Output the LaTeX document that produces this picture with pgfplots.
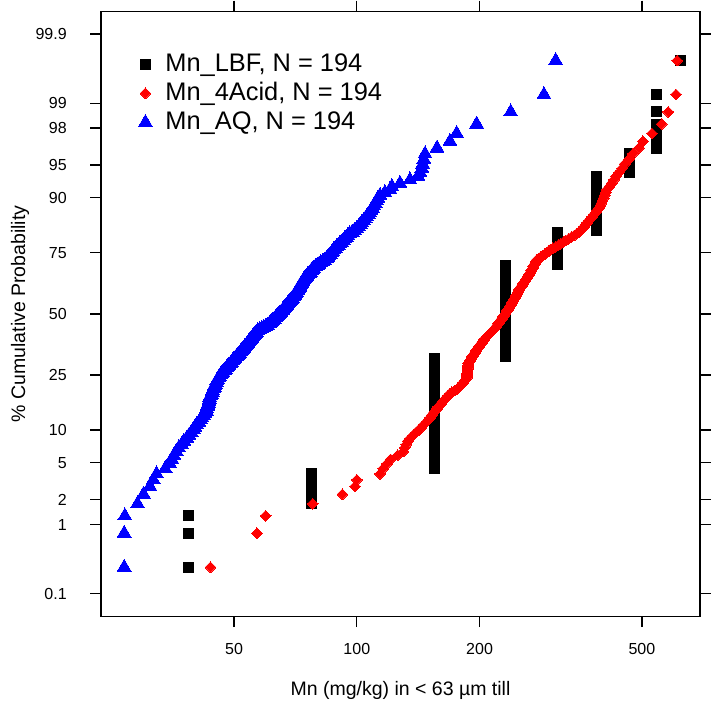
\documentclass[border=0pt]{standalone}
\usepackage{fontspec}
\setmainfont{Liberation Sans}
\usepackage{pgfplots}
\usepackage{pgfplotstable}
\pgfplotsset{compat=1.18}

% rank i and the sorted Mn values (mg/kg) of each method
\pgfplotstableread{
i lbf acid aq
1 38.7 43.8 26.9
2 38.7 56.9 26.9
3 38.7 59.8 27.0
4 77.4 78.0 29.0
5 77.4 92.2 30.0
6 77.4 99.0 31.1
7 77.4 100.0 31.7
8 77.4 114.0 32.3
9 155 116.0 33.9
10 155 118.5 34.8
11 155 121.0 35.2
12 155 126.0 35.6
13 155 130.1 36.1
14 155 131.0 36.6
15 155 132.2 37.2
16 155 133.4 37.7
17 155 135.3 38.3
18 155 137.5 38.8
19 155 139.8 39.3
20 155 142.0 39.7
21 155 144.1 40.1
22 155 146.1 40.5
23 155 148.1 41.0
24 155 149.9 41.4
25 155 151.3 41.7
26 155 152.7 42.1
27 155 154.1 42.4
28 155 155.6 42.8
29 155 157.0 42.9
30 155 158.4 43.0
31 155 159.9 43.1
32 155 161.4 43.3
33 155 162.8 43.4
34 155 164.3 43.5
35 155 165.8 43.6
36 155 167.3 43.8
37 155 168.8 44.0
38 155 171.1 44.2
39 155 173.8 44.3
40 155 176.6 44.5
41 155 178.3 44.7
42 155 179.7 44.8
43 155 181.0 45.0
44 155 182.4 45.2
45 155 183.7 45.4
46 155 185.1 45.6
47 155 186.0 45.8
48 155 186.2 46.0
49 155 186.3 46.3
50 155 186.5 46.6
51 155 186.7 46.9
52 155 186.8 47.3
53 155 187.0 47.6
54 155 187.2 48.0
55 155 187.3 48.3
56 155 187.5 48.6
57 155 187.7 49.0
58 155 188.4 49.3
59 155 189.3 49.6
60 155 190.2 49.9
61 155 191.1 50.3
62 232 192.0 50.6
63 232 192.8 50.9
64 232 193.7 51.3
65 232 194.6 51.6
66 232 195.5 51.9
67 232 196.4 52.2
68 232 197.3 52.6
69 232 198.3 52.9
70 232 199.3 53.2
71 232 200.3 53.5
72 232 201.3 53.8
73 232 202.3 54.1
74 232 203.4 54.4
75 232 204.4 54.7
76 232 205.4 55.0
77 232 206.5 55.3
78 232 207.9 55.5
79 232 209.3 55.8
80 232 210.8 56.1
81 232 212.2 56.4
82 232 213.6 56.7
83 232 215.0 57.2
84 232 216.5 57.8
85 232 217.9 58.5
86 232 219.1 59.1
87 232 220.1 59.8
88 232 221.2 60.4
89 232 222.2 61.0
90 232 223.3 61.5
91 232 224.4 61.9
92 232 225.4 62.3
93 232 226.5 62.7
94 232 227.5 63.1
95 232 228.6 63.5
96 232 229.6 63.9
97 232 230.6 64.4
98 232 231.6 64.8
99 232 232.7 65.2
100 232 233.7 65.6
101 232 234.8 65.9
102 232 235.8 66.3
103 232 236.8 66.6
104 232 237.8 67.0
105 232 238.7 67.4
106 232 239.6 67.7
107 232 240.5 68.1
108 232 241.3 68.4
109 232 242.2 68.8
110 232 243.1 69.2
111 232 244.0 69.5
112 232 244.9 69.9
113 232 245.8 70.2
114 232 246.7 70.5
115 232 247.6 70.8
116 232 248.5 71.1
117 232 249.4 71.4
118 232 250.3 71.6
119 232 251.2 71.9
120 232 252.4 72.2
121 232 253.6 72.5
122 232 254.8 72.8
123 232 256.0 73.1
124 232 257.1 73.4
125 232 258.3 73.8
126 232 259.5 74.1
127 232 260.7 74.6
128 232 261.9 75.0
129 232 263.1 75.5
130 232 264.2 75.9
131 232 265.4 76.4
132 232 266.6 76.9
133 232 267.8 77.3
134 232 268.9 77.7
135 232 269.9 78.3
136 232 270.9 79.1
137 232 271.9 80.0
138 310 272.9 80.8
139 310 274.0 81.6
140 310 275.0 82.5
141 310 276.1 83.3
142 310 279.2 84.2
143 310 282.3 84.9
144 310 285.4 85.5
145 310 288.6 86.1
146 310 291.7 86.7
147 310 294.8 87.3
148 310 297.9 87.9
149 310 302.5 88.5
150 310 307.1 89.2
151 310 311.6 90.1
152 310 316.2 90.9
153 310 320.8 91.7
154 310 325.4 92.6
155 310 330.6 93.4
156 310 335.8 94.3
157 310 341.0 95.1
158 310 346.2 96.0
159 310 351.4 97.4
160 387 354.7 98.7
161 387 357.7 100.0
162 387 360.6 101.0
163 387 363.6 101.9
164 387 366.7 102.9
165 387 370.4 103.8
166 387 374.1 104.8
167 387 377.7 105.7
168 387 381.4 106.6
169 387 385.1 107.5
170 387 388.7 108.3
171 387 392.4 109.2
172 387 395.6 110.1
173 387 398.0 111.0
174 387 400.4 111.8
175 387 402.8 112.7
176 387 405.2 114.0
177 387 407.6 117.2
178 387 410.3 120.6
179 387 416.1 121.9
180 387 421.4 127.6
181 387 426.6 135.0
182 387 431.5 141.3
183 465 439 142.9
184 465 447 144.4
185 465 454 145.0
186 465 465 146.0
187 465 475 147.0
188 542 492 157.3
189 542 503 169.2
190 542 529 175.7
191 542 559 196.7
192 542 580 238.4
193 542 606 287.6
194 620 610 307.3
}\mndata

\begin{document}
\begin{tikzpicture}[declare function={
    tq(\x)=sqrt(-2*ln(\x));
    hz(\x)=\x-(2.515517+0.802853*\x+0.010328*\x*\x)/(1+1.432788*\x+0.189269*\x*\x+0.001308*\x*\x*\x);
    pp(\x)=(\x-0.5)/194;
    probit(\x)=(\x<0.5)*(-hz(tq(\x)))+(\x>=0.5)*hz(tq(1-\x));
  }]
\path[use as bounding box] (-50.5pt,-46.5pt) rectangle (305.5pt,308.05pt);
\begin{axis}[
    at={(0,0)}, anchor=south west,
    scale only axis, width=299.5pt, height=302.2pt,
    xmode=log, xmin=23.6, xmax=694,
    ymin=-3.337, ymax=3.337,
    xtick={50,100,200,500}, xticklabels={50,100,200,500},
    ytick={-3.0902,-2.3263,-2.0537,-1.6449,-1.2816,-0.6745,0,0.6745,1.2816,1.6449,2.0537,2.3263,3.0902},
    yticklabels={0.1,1,2,5,10,25,50,75,90,95,98,99,99.9},
    xminorticks=false, yminorticks=false,
    tick align=outside, major tick length=5.5pt,
    every tick/.style={black, line width=0.6pt},
    axis line style={line width=0.6pt},
    /pgf/number format/assume math mode=true,
    ticklabel style={font=\fontsize{8}{9.6}\selectfont, inner sep=0pt},
    xticklabel style={anchor=center}, xticklabel shift=11pt,
    yticklabel style={anchor=east}, yticklabel shift=11.5pt,
    xlabel={Mn (mg/kg) in < 63 µm till},
    ylabel={\% Cumulative Probability},
    xlabel style={at={(axis description cs:0.5,-0.1224)}, anchor=center, font=\fontsize{9.75}{11}\selectfont},
    ylabel style={at={(axis description cs:-0.1352,0.5)}, anchor=center, font=\fontsize{9.75}{11}\selectfont},
    legend cell align=left,
    legend image code/.code={\path[draw=none, fill=none] (0pt,-1pt) rectangle (20pt,1pt); \draw[#1] plot coordinates {(10pt,0pt)};},
    legend style={draw=none, fill=none, inner sep=0pt, column sep=0pt, row sep=2.6pt,
      at={(axis description cs:0.0401,0.9338)}, anchor=north west,
      font=\fontsize{12.7}{14}\selectfont,
      nodes={inner sep=0pt, text height=9.5pt, text depth=2.5pt}},
  ]
\addplot[only marks, mark=square*, black, mark size=2.5pt, mark options={line width=0pt}]
  table[x=lbf, y expr={probit(pp(\thisrow{i}))}] {\mndata};
\addlegendentry{Mn\_LBF, N = 194}
\addplot[only marks, mark=square*, red, mark size=1.9pt, mark options={rotate=45, line width=0pt}]
  table[x=acid, y expr={probit(pp(\thisrow{i}))}] {\mndata};
\addlegendentry{Mn\_4Acid, N = 194}
\addplot[only marks, mark=triangle*, blue, mark size=4pt, mark options={line width=0pt}]
  table[x=aq, y expr={probit(pp(\thisrow{i}))}] {\mndata};
\addlegendentry{Mn\_AQ, N = 194}
\end{axis}
\end{tikzpicture}
\end{document}
